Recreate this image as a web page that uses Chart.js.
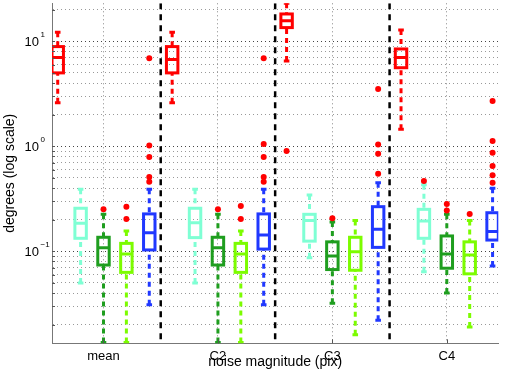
<!DOCTYPE html>
<html>
<head>
<meta charset="utf-8">
<script src="https://cdn.jsdelivr.net/npm/chart.js@4/dist/chart.umd.min.js"></script>
<style>
  html, body { margin: 0; padding: 0; background: #fff; }
</style>
</head>
<body>
<canvas id="chart" width="505" height="373"></canvas>
<script>
const groups = ['mean', 'C2', 'C3', 'C4'];
const seriesColors = ['#ff0000', '#7fffd4', '#1f9e1f', '#7cfc00', '#2038ff'];

// [lower whisker, q1, median, q3, upper whisker], one entry per group
const redBox    = [[2.6, 5.0, 7.0, 8.9, 12.2], [2.6, 5.0, 6.7, 8.9, 12.2], [6.5, 13.5, 15.7, 18.2, 23], [1.45, 5.6, 7.0, 8.45, 12.8]];
const cyanBox   = [[0.05, 0.133, 0.185, 0.257, 0.389], [0.05, 0.135, 0.187, 0.257, 0.389], [0.087, 0.125, 0.196, 0.225, 0.344], [0.064, 0.133, 0.194, 0.251, 0.43]];
const dgreenBox = [[0.0135, 0.074, 0.108, 0.136, 0.225], [0.0135, 0.074, 0.108, 0.136, 0.225], [0.032, 0.067, 0.09, 0.123, 0.19], [0.04, 0.069, 0.094, 0.14, 0.225]];
const lgreenBox = [[0.0135, 0.063, 0.094, 0.119, 0.156], [0.0135, 0.063, 0.094, 0.119, 0.156], [0.016, 0.066, 0.099, 0.136, 0.196], [0.019, 0.061, 0.092, 0.123, 0.196]];
const blueBox   = [[0.031, 0.103, 0.15, 0.227, 0.389], [0.031, 0.105, 0.143, 0.227, 0.389], [0.022, 0.109, 0.162, 0.266, 0.45], [0.0725, 0.128, 0.154, 0.233, 0.398]];

// outliers: [group index, value]
const redOut    = [[2, 0.90]];
const cyanOut   = [[3, 0.467]];
const dgreenOut = [[0, 0.251], [1, 0.251], [2, 0.206], [3, 0.282], [3, 0.244]];
const lgreenOut = [[0, 0.266], [0, 0.203], [1, 0.27], [1, 0.203], [3, 0.227]];
const blueOut   = [[0, 6.9], [0, 1.02], [0, 0.79], [0, 0.51], [0, 0.46],
                   [1, 6.9], [1, 1.05], [1, 0.79], [1, 0.51], [1, 0.46],
                   [2, 3.51], [2, 1.04], [2, 0.85], [2, 0.548],
                   [3, 2.7], [3, 1.12], [3, 0.87], [3, 0.65], [3, 0.53], [3, 0.45]];

const yGridValues = [0.02, 0.03, 0.04, 0.05, 0.06, 0.07, 0.08, 0.09, 0.1, 0.2, 0.3, 0.4, 0.5, 0.6, 0.7, 0.8, 0.9,
                     1, 2, 3, 4, 5, 6, 7, 8, 9, 10, 20];
const yLabels = [[10, '1'], [1, '0'], [0.1, '\u22121']];
const separators = [1.5, 2.5, 3.5];

const allBoxes = [redBox, cyanBox, dgreenBox, lgreenBox, blueBox];
const allOut = [redOut, cyanOut, dgreenOut, lgreenOut, blueOut];
const boxStep = 0.2;
const boxWidth = 0.1;

const FONT = "'Liberation Sans', Arial, sans-serif";
Chart.defaults.font.family = FONT;
Chart.defaults.color = '#000';

const outlierPoints = [];
allOut.forEach((list, k) => {
  list.forEach(([g, v]) => outlierPoints.push({ x: g + 1 + (k - 2) * boxStep, y: v }));
});

const boxPlugin = {
  id: 'boxes',
  beforeDatasetsDraw(chart) {
    const { ctx, chartArea: a, scales: { x, y } } = chart;
    ctx.save();
    ctx.beginPath();
    ctx.rect(a.left, a.top, a.right - a.left, a.bottom - a.top);
    ctx.clip();

    ctx.strokeStyle = '#000';
    ctx.lineWidth = 2.5;
    ctx.setLineDash([6, 5]);
    separators.forEach(s => {
      const px = x.getPixelForValue(s);
      ctx.beginPath();
      ctx.moveTo(px, a.top);
      ctx.lineTo(px, a.bottom);
      ctx.stroke();
    });

    const half = (x.getPixelForValue(boxWidth) - x.getPixelForValue(0)) / 2;
    allBoxes.forEach((stats, k) => {
      stats.forEach((st, g) => {
        const cx = x.getPixelForValue(g + 1 + (k - 2) * boxStep);
        const [lo, q1, med, q3, hi] = st.map(v => y.getPixelForValue(v));
        ctx.strokeStyle = seriesColors[k];
        ctx.lineWidth = 3;
        ctx.setLineDash([5, 4]);
        ctx.beginPath();
        ctx.moveTo(cx, hi); ctx.lineTo(cx, q3);
        ctx.moveTo(cx, lo); ctx.lineTo(cx, q1);
        ctx.stroke();
        ctx.setLineDash([]);
        ctx.beginPath();
        ctx.moveTo(cx - 2.8, hi); ctx.lineTo(cx + 2.8, hi);
        ctx.moveTo(cx - 2.8, lo); ctx.lineTo(cx + 2.8, lo);
        ctx.stroke();
        ctx.strokeRect(cx - half, q3, half * 2, q1 - q3);
        ctx.beginPath();
        ctx.moveTo(cx - half, med); ctx.lineTo(cx + half, med);
        ctx.stroke();
      });
    });
    ctx.restore();
  },
  afterDraw(chart) {
    const { ctx, chartArea: a, scales: { x, y } } = chart;
    ctx.save();
    // inward tick marks
    ctx.strokeStyle = '#555';
    ctx.lineWidth = 1;
    ctx.beginPath();
    yGridValues.forEach(v => {
      const py = Math.round(y.getPixelForValue(v)) + 0.5;
      ctx.moveTo(a.left, py); ctx.lineTo(a.left + 3, py);
    });
    [1, 2, 3, 4].forEach(v => {
      const px = Math.round(x.getPixelForValue(v)) + 0.5;
      ctx.moveTo(px, a.bottom); ctx.lineTo(px, a.bottom - 4);
    });
    ctx.stroke();
    // y labels with exponents
    ctx.fillStyle = '#000';
    yLabels.forEach(([v, e]) => {
      const py = y.getPixelForValue(v);
      ctx.font = '13px ' + FONT;
      ctx.textAlign = 'right';
      ctx.textBaseline = 'alphabetic';
      ctx.fillText('10', 39, py + 5.2);
      ctx.font = '8px ' + FONT;
      ctx.textAlign = 'left';
      ctx.fillText(e, 40.5, py - 3.8);
    });
    ctx.restore();
  }
};

new Chart(document.getElementById('chart'), {
  type: 'scatter',
  data: {
    datasets: [{
      data: outlierPoints,
      pointRadius: 3,
      pointBackgroundColor: '#ff0000',
      pointBorderWidth: 0,
      pointHoverRadius: 3
    }]
  },
  options: {
    responsive: false,
    animation: false,
    devicePixelRatio: 1,
    layout: { padding: { top: 3.3, right: 6.7, left: 0, bottom: 0 } },
    plugins: { legend: { display: false }, tooltip: { enabled: false } },
    scales: {
      x: {
        type: 'linear',
        min: 0.55,
        max: 4.45,
        afterBuildTicks: s => { s.ticks = [1, 2, 3, 4].map(v => ({ value: v })); },
        ticks: {
          callback: v => groups[Math.round(v) - 1],
          font: { size: 13 },
          color: '#000',
          padding: 5,
          maxRotation: 0,
          autoSkip: false
        },
        grid: { drawTicks: false, color: '#888', lineWidth: 1 },
        border: { display: true, color: '#777', width: 1, dash: [1, 3] },
        title: {
          display: true,
          text: 'noise magnitude (pix)',
          font: { size: 14 },
          color: '#000',
          padding: { top: 0, bottom: 2 }
        },
        afterFit: s => { s.height = 29.7; }
      },
      y: {
        type: 'logarithmic',
        min: 0.0133,
        max: 23,
        afterBuildTicks: s => { s.ticks = yGridValues.map(v => ({ value: v })); },
        ticks: { display: false },
        grid: {
          drawTicks: false,
          lineWidth: 1,
          color: c => [0.1, 1, 10].includes(c.tick && c.tick.value) ? '#444' : '#999'
        },
        border: { display: true, color: '#777', width: 1, dash: [1, 3] },
        title: {
          display: true,
          text: 'degrees (log scale)',
          font: { size: 14, lineHeight: 1 },
          color: '#000',
          padding: { top: 3, bottom: 0 }
        },
        afterFit: s => { s.width = 52; }
      }
    }
  },
  plugins: [boxPlugin]
});
</script>
</body>
</html>
